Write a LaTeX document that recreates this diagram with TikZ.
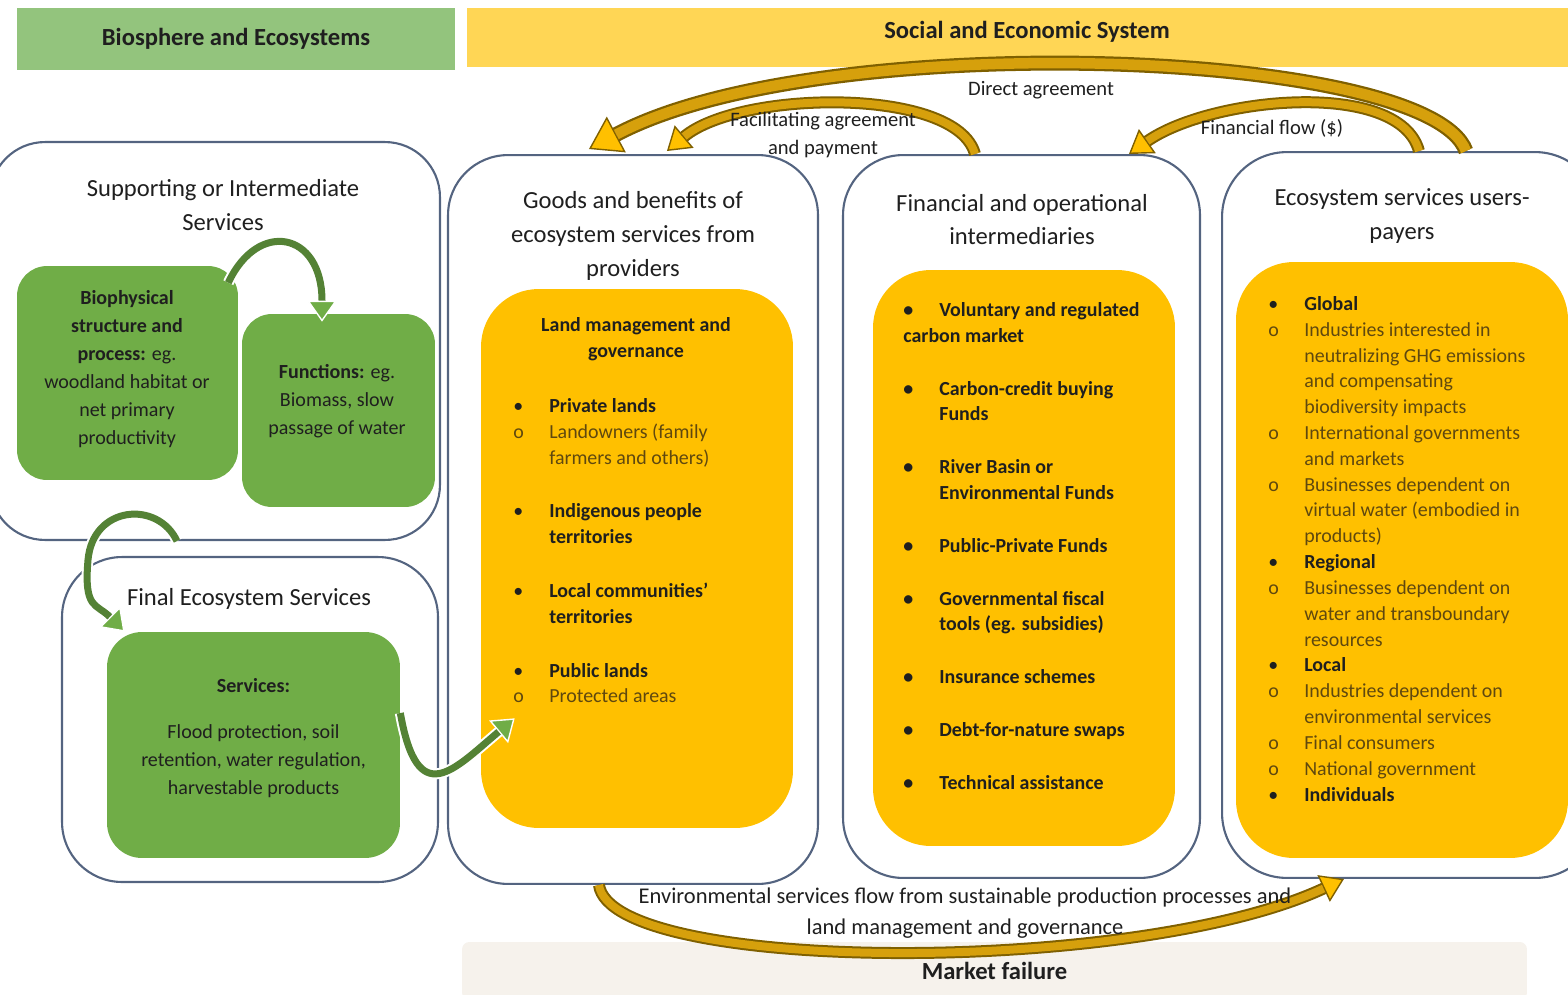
\documentclass[tikz,border=0pt]{standalone}
\usepackage{fontspec}
\setmainfont{Carlito}
\usepackage{xcolor}
\definecolor{biohead}{RGB}{147,196,125}
\definecolor{sochead}{RGB}{255,214,85}
\definecolor{leaf}{RGB}{112,173,71}
\definecolor{leafdark}{RGB}{84,130,53}
\definecolor{amber}{RGB}{255,192,0}
\definecolor{frame}{RGB}{84,100,128}
\definecolor{golddark}{RGB}{127,96,0}
\definecolor{goldbody}{RGB}{214,160,12}
\definecolor{marketbg}{RGB}{246,242,236}
\definecolor{subtext}{RGB}{95,72,15}
\usepackage{tikz}
\usetikzlibrary{positioning}
\usetikzlibrary{arrows.meta}

% bullets for the lists in the yellow boxes
\newcommand{\mainitem}[1]{\makebox[0.72cm][l]{\textbullet}\textbf{#1}}
\newcommand{\minoritem}[1]{\makebox[0.72cm][l]{o}#1}
\newcommand{\moreline}[1]{\hspace*{0.72cm}#1}

\begin{document}
\begin{tikzpicture}[x=0.02cm, y=-0.02cm,
    every node/.style={font=\fontsize{11.35}{14.7}\selectfont, text=black!88, inner sep=0pt},
    band/.style={font=\fontsize{14}{17}\selectfont\bfseries},
    outerbox/.style={draw=frame, line width=1.2pt, fill=white, rounded corners=1.2cm},
    greenbox/.style={fill=leaf, rounded corners=0.6cm},
    greentext/.style={align=center, font=\fontsize{11.4}{15.9}\selectfont},
    amberbox/.style={fill=amber, rounded corners=1.15cm},
    title/.style={font=\fontsize{14}{19.3}\selectfont, align=center},
    listtext/.style={anchor=north west, align=left},
    flowlabel/.style={align=center, font=\fontsize{11.7}{15.9}\selectfont},
    goldflow/.style n args={3}{draw=golddark, line width=#1,
      -{Triangle[length=#3, width'=0pt 1.3, line width=0.8pt, fill=amber]},
      postaction={draw=goldbody, line width=#2, -, shorten >=#3}},
    greenflow/.style={draw=white, line width=0.22cm,
      -{Triangle[length=0.42cm, width'=0pt 1.4, line width=0.8pt, fill=leaf]},
      postaction={draw=leafdark, line width=0.14cm, -, shorten >=0.42cm}}]
  \useasboundingbox (0,0) rectangle (1568,994);

  % headers
  \node[band, fill=biohead, minimum width=8.76cm, minimum height=1.24cm] (biohd) at (236,39) {Biosphere and Ecosystems};
  \node[band, fill=sochead, text depth=0.3cm, minimum width=22.4cm, minimum height=1.18cm] (sochd) at (1027,37.5) {Social and Economic System};
  \node[band, fill=marketbg, rounded corners=4pt, minimum width=21.3cm, minimum height=1.16cm] (market) at (994.5,971) {Market failure};

  % outer boxes
  \node[outerbox, rounded corners=1.1cm, minimum width=9cm, minimum height=7.96cm] (supp) at (215,341) {};
  \node[outerbox, minimum width=7.52cm, minimum height=6.5cm] (final) at (250,719.5) {};
  \node[outerbox, minimum width=7.4cm, minimum height=14.58cm] (goods) at (633,519.5) {};
  \node[outerbox, minimum width=7.14cm, minimum height=14.46cm] (fin) at (1021.5,516.5) {};
  \node[outerbox, rounded corners=1.3cm, minimum width=7.56cm, minimum height=14.52cm] (users) at (1411,515) {};

  \node[title] (supptitle) at (223,205) {Supporting or Intermediate\\Services};
  \node[title] (finaltitle) at (249,599) {Final Ecosystem Services};
  \node[title] (goodstitle) at (633,236) {Goods and benefits of\\ecosystem services from\\providers};
  \node[title] (fintitle) at (1022,219.5) {Financial and operational\\intermediaries};
  \node[title] (userstitle) at (1402,216) {Ecosystem services users-\\payers};

  % green boxes
  \node[greenbox, minimum width=4.42cm, minimum height=4.28cm] (bio) at (127.5,373) {};
  \node[greentext] (biotext) at (127,369) {\textbf{Biophysical}\\\textbf{structure and}\\\textbf{process:} eg.\\woodland habitat or\\net primary\\productivity};
  \node[greenbox, minimum width=3.86cm, minimum height=3.86cm] (func) at (338.5,410.5) {};
  \node[greentext] (functext) at (337,401) {\textbf{Functions:} eg.\\Biomass, slow\\passage of water};
  \node[greenbox, rounded corners=0.7cm, minimum width=5.86cm, minimum height=4.52cm] (serv) at (253.5,745) {};
  \node[greentext] (servtext) at (253.5,738) {\textbf{Services:}\\[0.38cm]Flood protection, soil\\retention, water regulation,\\harvestable products};

  % yellow boxes
  \node[amberbox, minimum width=6.24cm, minimum height=10.78cm] (land) at (637,558.5) {};
  \node[amberbox, minimum width=6.04cm, minimum height=11.52cm] (finlist) at (1024,558) {};
  \node[amberbox, minimum width=6.64cm, minimum height=11.92cm] (userlist) at (1402,560) {};

  \node[font=\fontsize{11.35}{14.7}\selectfont\bfseries, align=center] (landhd) at (636,339) {Land management and\\governance};
  \node[listtext] (landitems) at (513,398) {\mainitem{Private lands}\\
    \textcolor{subtext}{\minoritem{Landowners (family}}\\
    \textcolor{subtext}{\moreline{farmers and others)}}\\[0.56cm]
    \mainitem{Indigenous people}\\
    \moreline{\textbf{territories}}\\[0.56cm]
    \mainitem{Local communities’}\\
    \moreline{\textbf{territories}}\\[0.56cm]
    \mainitem{Public lands}\\
    \textcolor{subtext}{\minoritem{Protected areas}}};

  \node[listtext, font=\fontsize{11.35}{14.7}\selectfont\bfseries] (finitems) at (903,302) {\mainitem{Voluntary and regulated}\\
    carbon market\\[0.54cm]
    \mainitem{Carbon-credit buying}\\
    \moreline{Funds}\\[0.54cm]
    \mainitem{River Basin or}\\
    \moreline{Environmental Funds}\\[0.54cm]
    \mainitem{Public-Private Funds}\\[0.54cm]
    \mainitem{Governmental fiscal}\\
    \moreline{tools (eg. subsidies)}\\[0.54cm]
    \mainitem{Insurance schemes}\\[0.54cm]
    \mainitem{Debt-for-nature swaps}\\[0.54cm]
    \mainitem{Technical assistance}};

  \node[listtext, text=subtext] (useritems) at (1268,296) {\textcolor{black!88}{\mainitem{Global}}\\
    \minoritem{Industries interested in}\\
    \moreline{neutralizing GHG emissions}\\
    \moreline{and compensating}\\
    \moreline{biodiversity impacts}\\
    \minoritem{International governments}\\
    \moreline{and markets}\\
    \minoritem{Businesses dependent on}\\
    \moreline{virtual water (embodied in}\\
    \moreline{products)}\\
    \textcolor{black!88}{\mainitem{Regional}}\\
    \minoritem{Businesses dependent on}\\
    \moreline{water and transboundary}\\
    \moreline{resources}\\
    \textcolor{black!88}{\mainitem{Local}}\\
    \minoritem{Industries dependent on}\\
    \moreline{environmental services}\\
    \minoritem{Final consumers}\\
    \minoritem{National government}\\
    \textcolor{black!88}{\mainitem{Individuals}}};

  % flows between the ecosystem boxes
  \draw[greenflow] ([xshift=-0.2cm,yshift=-0.34cm]bio.north east) .. controls +(65:1.4cm) and +(90:1.8cm) .. ([xshift=-0.33cm,yshift=-0.16cm]func.north);
  \draw[greenflow] ([xshift=3.76cm]supp.south west) .. controls +(115:0.9cm) and +(85:1.1cm) .. (88,560)
    .. controls +(-95:1cm) and +(135:0.8cm) .. ([xshift=0.36cm]serv.north west);
  \draw[greenflow] ([yshift=0.64cm]serv.east) .. controls +(-80:2cm) and +(220:1.6cm) .. ([xshift=0.68cm,yshift=2.2cm]land.south west);

  % agreements and money
  \draw[goldflow={0.3cm}{0.21cm}{0.62cm}] ([xshift=4.9cm]users.north west) .. controls +(110:2.2cm) and +(28:5.2cm) .. ([xshift=2.84cm,yshift=0.1cm]goods.north west);
  \draw[goldflow={0.24cm}{0.16cm}{0.45cm}] ([xshift=2.66cm]fin.north west) .. controls +(105:1.4cm) and +(40:1.9cm) .. ([xshift=4.4cm,yshift=0.06cm]goods.north west);
  \draw[goldflow={0.24cm}{0.16cm}{0.45cm}] ([xshift=3.96cm]users.north west) .. controls +(105:1.5cm) and +(35:2cm) .. ([xshift=5.74cm]fin.north west);
  \draw[goldflow={0.24cm}{0.16cm}{0.45cm}] ([xshift=3.04cm]goods.south west) .. controls +(-82:1.8cm) and +(205:4.6cm) .. ([xshift=2.46cm]users.south west);

  \node[flowlabel] (directlbl) at (1041,90) {Direct agreement};
  \node[flowlabel] (facillbl) at (823,135) {Facilitating agreement\\and payment};
  \node[flowlabel] (moneylbl) at (1272,128) {Financial flow (\$)};
  \node[flowlabel, font=\fontsize{12.8}{17.6}\selectfont] (envlbl) at (965,913) {Environmental services flow from sustainable production processes and\\land management and governance};
\end{tikzpicture}
\end{document}
